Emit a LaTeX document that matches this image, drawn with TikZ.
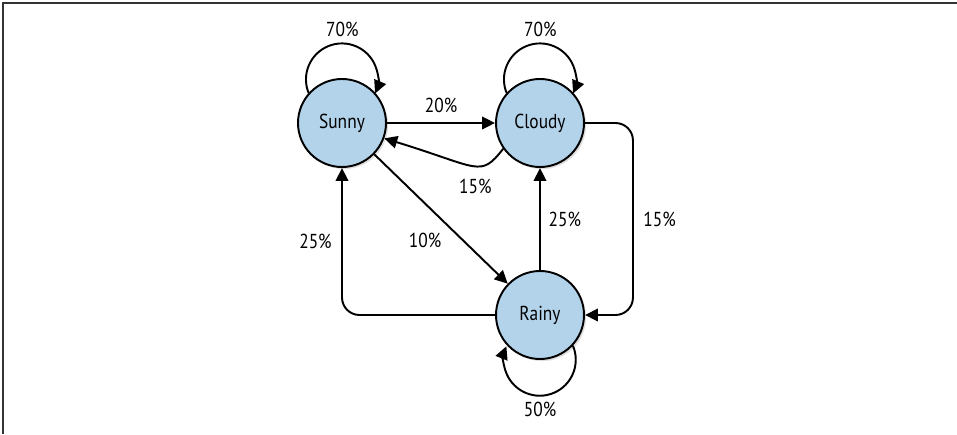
\documentclass[tikz,border=0pt]{standalone}
\usepackage{fontspec}
\setmainfont[FakeStretch=0.86]{PT Sans}
\usepackage{tikz}
\usetikzlibrary{arrows.meta,shadows}
\definecolor{stateblue}{RGB}{179,211,234}

\begin{document}
\begin{tikzpicture}[font=\fontsize{11.5pt}{13pt}\selectfont]
\tikzstyle{weather} = [circle, minimum size=1.76cm, line width=1.1pt, draw=black, fill=stateblue, drop shadow={shadow xshift=1.2pt, shadow yshift=-1.2pt, opacity=0.25}]
\tikzstyle{arrow} = [line width=1.1pt, -{Triangle[length=0.26cm, width=0.25cm]}]
\tikzstyle{frame} = [line width=0.8pt, black!80]

\useasboundingbox (0,0) rectangle (19.14,8.68);
\draw [frame] (0.06,0) -- (0.06,8.62) -- (19.14,8.62);

%nodes
\node (sunny) [weather] at (6.84,6.22) {Sunny};
\node (cloudy) [weather] at (10.80,6.22) {Cloudy};
\node (rainy) [weather] at (10.80,2.38) {Rainy};

%arrows
\draw [arrow] (sunny.138) arc[start angle=202, end angle=-23, radius=0.72] node [pos=0.5, above=0pt] {70\%};
\draw [arrow] (cloudy.138) arc[start angle=202, end angle=-23, radius=0.72] node [pos=0.5, above=0pt] {70\%};
\draw [arrow] (rainy.-43) arc[start angle=23, end angle=-202, radius=0.72] node [pos=0.5, below=0pt] {50\%};
\draw [arrow] (sunny) -- (cloudy) node [midway, above=2pt] {20\%};
\draw [arrow] (cloudy.215) .. controls +(232:0.75) and +(-17:2.0) .. (sunny.-20) node [pos=0.3, below=4pt, xshift=-0.2cm] {15\%};
\draw [arrow] (sunny) -- (rainy) node [pos=0.5, xshift=-0.32cm, yshift=-0.42cm] {10\%};
\draw [arrow] (rainy) -- (cloudy) node [midway, right=1pt] {25\%};
\draw [arrow, rounded corners=0.35cm] (cloudy.east) -- ++(0.96,0) |- (rainy.east) node [pos=0.25, right=2pt] {15\%};
\draw [arrow, rounded corners=0.35cm] (rainy.west) -| (sunny.south) node [pos=0.75, left=2pt] {25\%};
\end{tikzpicture}
\end{document}
